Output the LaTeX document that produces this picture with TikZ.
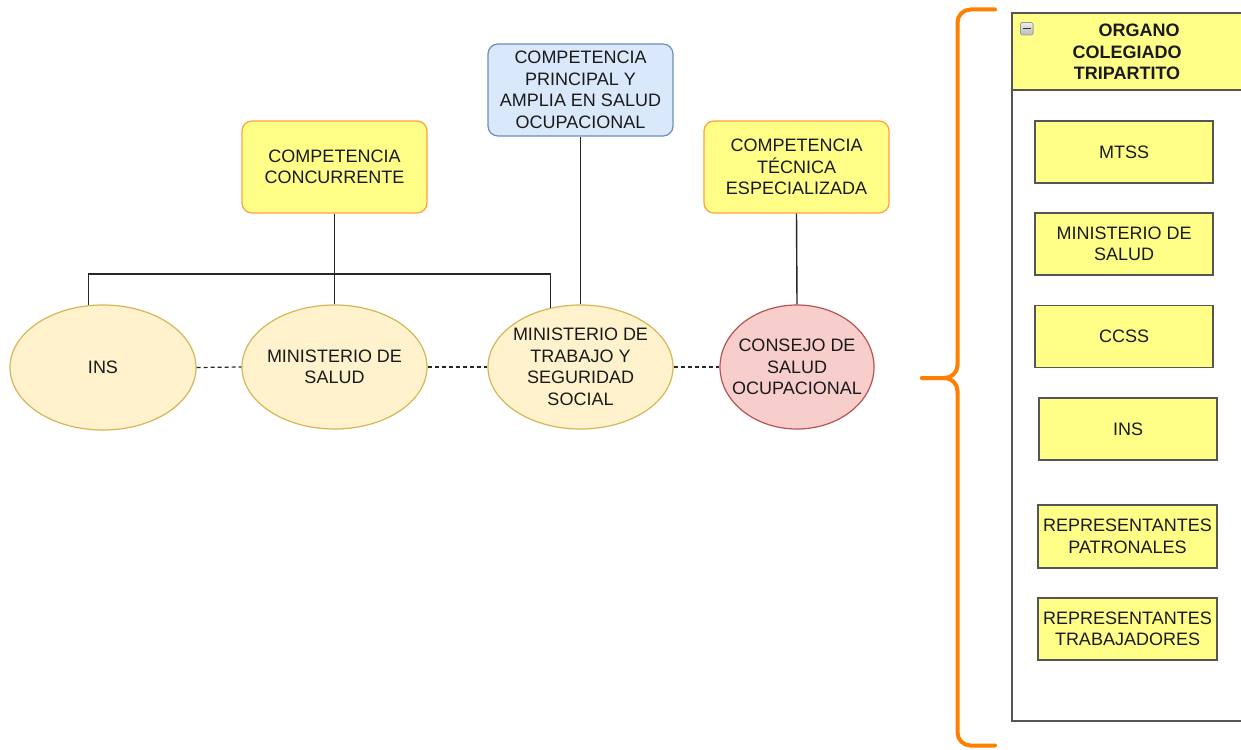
\documentclass[tikz,border=0pt]{standalone}
\usepackage{fontspec}
\setmainfont{Liberation Sans}
\usetikzlibrary{shapes.geometric,calc}
\definecolor{ellfill}{HTML}{FFF2CC}
\definecolor{elldraw}{HTML}{D6B656}
\definecolor{redfill}{HTML}{F8CECC}
\definecolor{reddraw}{HTML}{B85450}
\definecolor{notefill}{HTML}{FFFF88}
\definecolor{notedraw}{HTML}{FFA040}
\definecolor{boxdraw}{HTML}{555555}
\definecolor{bluefill}{HTML}{DAE8FC}
\definecolor{bluedraw}{HTML}{6C8EBF}
\definecolor{txt}{HTML}{1A1A1A}
\definecolor{brace}{HTML}{FF8000}
\tikzset{
  base/.style={font=\fontsize{18}{21.5}\selectfont, text=txt, align=center},
  ellnode/.style={ellipse, draw=elldraw, fill=ellfill, line width=1.2pt, inner sep=0pt},
  rednode/.style={ellipse, draw=reddraw, fill=redfill, line width=1.2pt, inner sep=0pt},
  compnode/.style={base, rectangle, rounded corners=10pt, draw=notedraw, fill=notefill, line width=1.2pt, inner sep=1pt, minimum width=185pt, minimum height=92pt},
  bluenode/.style={compnode, draw=bluedraw, fill=bluefill},
  member/.style={base, rectangle, draw=boxdraw, fill=notefill, line width=1.3pt, inner sep=1pt, minimum width=178pt, minimum height=62pt},
  conn/.style={draw=black!85, line width=1.4pt},
  dashconn/.style={draw=black!85, line width=1.2pt, dash pattern=on 4pt off 3pt},
}
\begin{document}
\begin{tikzpicture}[x=1pt,y=-1pt]
\useasboundingbox (0,0) rectangle (1241,749);
\clip (0,0) rectangle (1241,749);
\fill[white] (0,0) rectangle (1241,749);

% ellipses
\node[ellnode, minimum width=186pt, minimum height=125pt] (ins) at (103,367.5) {};
\node[base] (insT) at (ins) {INS};
\node[ellnode, minimum width=185pt, minimum height=124pt] (ms) at (334.5,367) {};
\node[base] (msT) at (ms) {MINISTERIO DE\\SALUD};
\node[ellnode, minimum width=185pt, minimum height=124pt] (mt) at (580.5,367) {};
\node[base] (mtT) at (mt) {MINISTERIO DE\\TRABAJO Y\\SEGURIDAD\\SOCIAL};
\node[rednode, minimum width=154pt, minimum height=124pt] (cs) at (797,367) {};
\node[base] (csT) at (cs) {CONSEJO DE\\SALUD\\OCUPACIONAL};

% competencia boxes
\node[compnode] (cc) at (334.5,167) {COMPETENCIA\\CONCURRENTE};
\node[bluenode] (cp) at (580.5,90) {COMPETENCIA\\PRINCIPAL Y\\AMPLIA EN SALUD\\OCUPACIONAL};
\node[compnode] (ct) at (796.5,167) {COMPETENCIA\\TÉCNICA\\ESPECIALIZADA};

% connectors
\coordinate (bus) at (334.5,274);
\draw[conn] (cc.south) -- (ms.north);
\draw[conn] (bus) -| (ins.103.7);
\draw[conn] (bus) -| (mt.117.3);
\draw[conn] (cp.south) -- (mt.north);
\draw[conn] (ct.south) -- (cs.north);

\draw[dashconn] (ins.east) -- (ms.west);
\draw[dashconn] (ms.east) -- (mt.west);
\draw[dashconn] (mt.east) -- (cs.west);

% container
\draw[draw=boxdraw, line width=1.3pt, fill=white] (1012,13) rectangle (1260,721);
\draw[draw=boxdraw, line width=1.3pt, fill=notefill] (1012,13) rectangle (1260,90);
\node[base, font=\fontsize{18}{21.5}\selectfont\bfseries] (head) at (1127,52) {\hspace*{24pt}ORGANO\\COLEGIADO\\TRIPARTITO};
\fill[rounded corners=1.5pt, top color=gray!15, bottom color=gray!55, draw=gray!80, line width=0.6pt] (1020.5,22.5) rectangle (1033,35);
\draw[black!80, line width=1.4pt] (1023,28.75) -- (1030.5,28.75);

\node[member] (m1) at (1124,152) {MTSS};
\node[member] (m2) at (1124,244) {MINISTERIO DE\\SALUD};
\node[member] (m3) at (1124,336.5) {CCSS};
\node[member] (m4) at (1128,429) {INS};
\node[member, minimum width=179pt, minimum height=63pt] (m5) at (1127.5,536.5) {REPRESENTANTES\\PATRONALES};
\node[member, minimum width=179pt] (m6) at (1127.5,629) {REPRESENTANTES\\TRABAJADORES};

% brace
\coordinate (tip) at (922,378);
\draw[brace, line width=4pt, line cap=round, rounded corners=13pt] (995,9.5) -- (957.5,9.5) -- (957.5,378) -- (tip);
\draw[brace, line width=4pt, line cap=round, rounded corners=13pt] (tip) -- (957.5,378) -- (957.5,745.5) -- (995,745.5);
\end{tikzpicture}
\end{document}
